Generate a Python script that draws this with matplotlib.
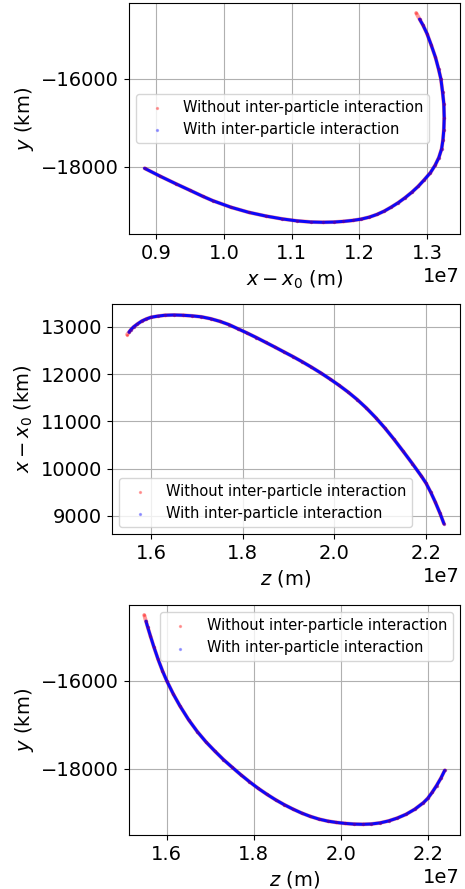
import matplotlib
matplotlib.use('Agg')
import matplotlib.pyplot as plt
import numpy as np

# particle cloud centre line (km)
z_km = [15480, 15520, 15560, 15620, 15700, 15800, 15900, 16000, 16150, 16300,
        16500, 16700, 16900, 17100, 17300, 17500, 17700, 17900, 18100, 18300,
        18500, 18700, 18900, 19100, 19300, 19500, 19700, 19900, 20100, 20300,
        20500, 20700, 20900, 21100, 21300, 21500, 21700, 21900, 22000, 22100,
        22200, 22300, 22390]
x_km = [12840, 12890, 12940, 13000, 13060, 13125, 13170, 13205, 13230, 13248,
        13254, 13248, 13235, 13215, 13175, 13120, 13050, 12960, 12870, 12775,
        12675, 12575, 12472, 12370, 12262, 12148, 12028, 11900, 11765, 11620,
        11460, 11280, 11080, 10860, 10620, 10365, 10105, 9835, 9688, 9500,
        9290, 9060, 8830]
y_km = [-14500, -14640, -14775, -14970, -15220, -15510, -15770, -16000, -16300, -16565,
        -16880, -17150, -17385, -17590, -17785, -17960, -18130, -18290, -18440, -18575,
        -18700, -18812, -18912, -19002, -19078, -19140, -19185, -19215, -19237, -19252,
        -19257, -19250, -19225, -19180, -19115, -19030, -18915, -18765, -18666, -18530,
        -18380, -18210, -18030]

# with interaction the cloud starts a little later
z_int = z_km[1:]
x_int = x_km[1:]
y_int = y_km[1:]

lab_no = 'Without inter-particle interaction'
lab_yes = 'With inter-particle interaction'

W, H = 465, 889
fig = plt.figure(figsize=(W/100, H/100), dpi=100)

def box(l, t, r, b):
    return [l/W, 1 - b/H, (r-l)/W, (b-t)/H]

ax1 = fig.add_axes(box(129, 3, 460, 234))
ax2 = fig.add_axes(box(112, 304, 460, 534))
ax3 = fig.add_axes(box(129, 605, 460, 835))

def draw(ax, xa, ya, xb, yb, loc):
    ax.plot(xa, ya, color='red', lw=2.8, alpha=0.4, solid_capstyle='round')
    ax.plot(xb, yb, color='blue', lw=2.2, alpha=0.95, solid_capstyle='round')
    ax.scatter(xa, ya, s=2, color='red', alpha=0.3, label=lab_no, zorder=3)
    ax.scatter(xb, yb, s=2, color='blue', alpha=0.3, label=lab_yes, zorder=3)
    ax.grid(True)
    ax.set_axisbelow(True)
    ax.tick_params(labelsize=14)
    ax.xaxis.get_offset_text().set_fontsize(14)
    ax.legend(loc=loc, fontsize=10.5)

# x - x0 vs y
draw(ax1, np.array(x_km)*1000, y_km, np.array(x_int)*1000, y_int, 'center left')
ax1.set_xlim(0.860e7, 1.3487e7)
ax1.set_ylim(-19523, -14273)
ax1.set_yticks([-18000, -16000])
ax1.set_xlabel(r'$x - x_0$ (m)', fontsize=14)
ax1.set_ylabel(r'$y$ (km)', fontsize=14)

# z vs x - x0
draw(ax2, np.array(z_km)*1000, x_km, np.array(z_int)*1000, x_int, 'lower left')
ax2.set_xlim(1.515e7, 2.274e7)
ax2.set_ylim(8612, 13487)
ax2.set_xticks([1.6e7, 1.8e7, 2.0e7, 2.2e7])
ax2.set_yticks([9000, 10000, 11000, 12000, 13000])
ax2.set_xlabel(r'$z$ (m)', fontsize=14)
ax2.set_ylabel(r'$x - x_0$ (km)', fontsize=14)

# z vs y
draw(ax3, np.array(z_km)*1000, y_km, np.array(z_int)*1000, y_int, 'upper right')
ax3.set_xlim(1.513e7, 2.274e7)
ax3.set_ylim(-19500, -14273)
ax3.set_xticks([1.6e7, 1.8e7, 2.0e7, 2.2e7])
ax3.set_yticks([-18000, -16000])
ax3.set_xlabel(r'$z$ (m)', fontsize=14)
ax3.set_ylabel(r'$y$ (km)', fontsize=14)

fig.savefig('out.png', dpi=100)
